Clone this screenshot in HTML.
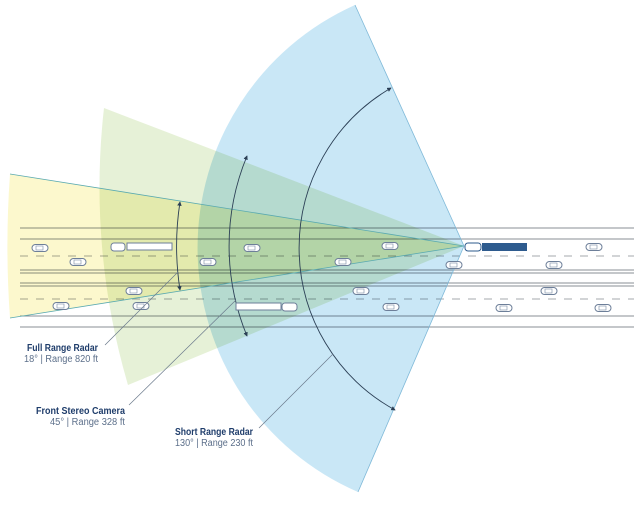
<!DOCTYPE html>
<html><head><meta charset="utf-8"><style>
html,body{margin:0;padding:0;background:#fff;}
svg{display:block;}
text{font-family:"Liberation Sans",sans-serif;}
</style></head><body>
<svg width="640" height="519" viewBox="0 0 640 519" xmlns="http://www.w3.org/2000/svg">
<defs>
<marker id="ar" viewBox="0 0 6 6" refX="5" refY="3" markerWidth="5" markerHeight="5" orient="auto-start-reverse"><path d="M0,0 L6,3 L0,6 z" fill="#2b3f55"/></marker>
<g id="car"><rect x="-8" y="-3.5" width="16" height="7" rx="3.5" fill="#fff" stroke="#6d7f99" stroke-width="1"/><rect x="-4" y="-2" width="7" height="4" fill="none" stroke="#8c9ab0" stroke-width="0.7"/></g>
</defs>
<!-- road -->
<g stroke="#8a8f96" stroke-width="1">
<line x1="20" y1="228" x2="634" y2="228"/>
<line x1="20" y1="239" x2="634" y2="239"/>
<line x1="20" y1="270" x2="634" y2="270"/>
<line x1="20" y1="273" x2="634" y2="273"/>
<line x1="20" y1="283" x2="634" y2="283"/>
<line x1="20" y1="286" x2="634" y2="286"/>
<line x1="20" y1="316" x2="634" y2="316"/>
<line x1="20" y1="327" x2="634" y2="327"/>
<line x1="20" y1="256" x2="634" y2="256" stroke-dasharray="8,8" stroke="#a5a9ae"/>
<line x1="20" y1="299" x2="634" y2="299" stroke-dasharray="8,8" stroke="#a5a9ae"/>
</g>
<!-- sectors -->
<g style="mix-blend-mode:multiply">
<path d="M464,246 L10,174 A1000,1000 0 0 0 10,318 Z" fill="#fbf6c0" opacity="0.8"/>
</g>
<g style="mix-blend-mode:multiply">
<path d="M464,246 L104,108 A700,700 0 0 0 128,385 Z" fill="#dcebc6" opacity="0.7"/>
</g>
<g style="mix-blend-mode:multiply">
<path d="M464,246 L355,5 A266,266 0 0 0 358,492 Z" fill="#c3e4f5" opacity="0.9"/>
</g>
<g stroke="#5aaab0" stroke-width="0.8" fill="none">
<line x1="464" y1="246" x2="10" y2="174"/><line x1="464" y1="246" x2="10" y2="318"/>
<line x1="464" y1="246" x2="355" y2="5" stroke="#7fb9d8"/><line x1="464" y1="246" x2="358" y2="492" stroke="#7fb9d8"/>
</g>
<!-- range arcs -->
<g stroke="#2b3f55" stroke-width="0.9" fill="none">
<path d="M180,202 A286,286 0 0 0 180,290" marker-start="url(#ar)" marker-end="url(#ar)"/>
<path d="M247,156 A235,235 0 0 0 247,336" marker-start="url(#ar)" marker-end="url(#ar)"/>
<path d="M391,88 A185,185 0 0 0 395,410" marker-start="url(#ar)" marker-end="url(#ar)"/>
</g>
<!-- cars -->
<use href="#car" x="40" y="248"/><use href="#car" x="78" y="262"/><use href="#car" x="208" y="262"/>
<use href="#car" x="252" y="248"/><use href="#car" x="343" y="262"/><use href="#car" x="390" y="246"/>
<use href="#car" x="454" y="265"/><use href="#car" x="554" y="265"/><use href="#car" x="594" y="247"/>
<use href="#car" x="134" y="291"/><use href="#car" x="61" y="306"/><use href="#car" x="141" y="306"/>
<use href="#car" x="361" y="291"/><use href="#car" x="391" y="307"/><use href="#car" x="549" y="291"/>
<use href="#car" x="504" y="308"/><use href="#car" x="603" y="308"/>
<!-- trucks -->
<rect x="111" y="243" width="14" height="8" rx="3" fill="#fff" stroke="#6d7f99"/>
<rect x="127" y="243" width="45" height="7" fill="#fff" stroke="#6d7f99"/>
<rect x="236" y="303" width="45" height="7" fill="#fff" stroke="#6d7f99"/>
<rect x="282" y="303" width="15" height="8" rx="3" fill="#fff" stroke="#6d7f99"/>
<rect x="465" y="243" width="16" height="8" rx="3" fill="#fff" stroke="#2e5b8e"/>
<rect x="482" y="243" width="45" height="8" fill="#2e5b8e"/>
<!-- leader lines -->
<g stroke="#6b7a8c" stroke-width="0.7">
<line x1="105" y1="345" x2="178" y2="272"/>
<line x1="129" y1="405" x2="236" y2="300"/>
<line x1="259" y1="428" x2="333" y2="354"/>
</g>
<!-- labels -->
<g font-size="10" lengthAdjust="spacingAndGlyphs">
<text x="27" y="351" font-weight="bold" fill="#1f3d6b" textLength="71" lengthAdjust="spacingAndGlyphs">Full Range Radar</text>
<text x="24" y="362" fill="#5c6f8a" textLength="74" lengthAdjust="spacingAndGlyphs">18°  |  Range 820 ft</text>
<text x="36" y="414" font-weight="bold" fill="#1f3d6b" textLength="89" lengthAdjust="spacingAndGlyphs">Front Stereo Camera</text>
<text x="50" y="425" fill="#5c6f8a" textLength="75" lengthAdjust="spacingAndGlyphs">45°  |  Range 328 ft</text>
<text x="175" y="435" font-weight="bold" fill="#1f3d6b" textLength="78" lengthAdjust="spacingAndGlyphs">Short Range Radar</text>
<text x="175" y="446" fill="#5c6f8a" textLength="78" lengthAdjust="spacingAndGlyphs">130°  |  Range 230 ft</text>
</g>
</svg>
</body></html>
